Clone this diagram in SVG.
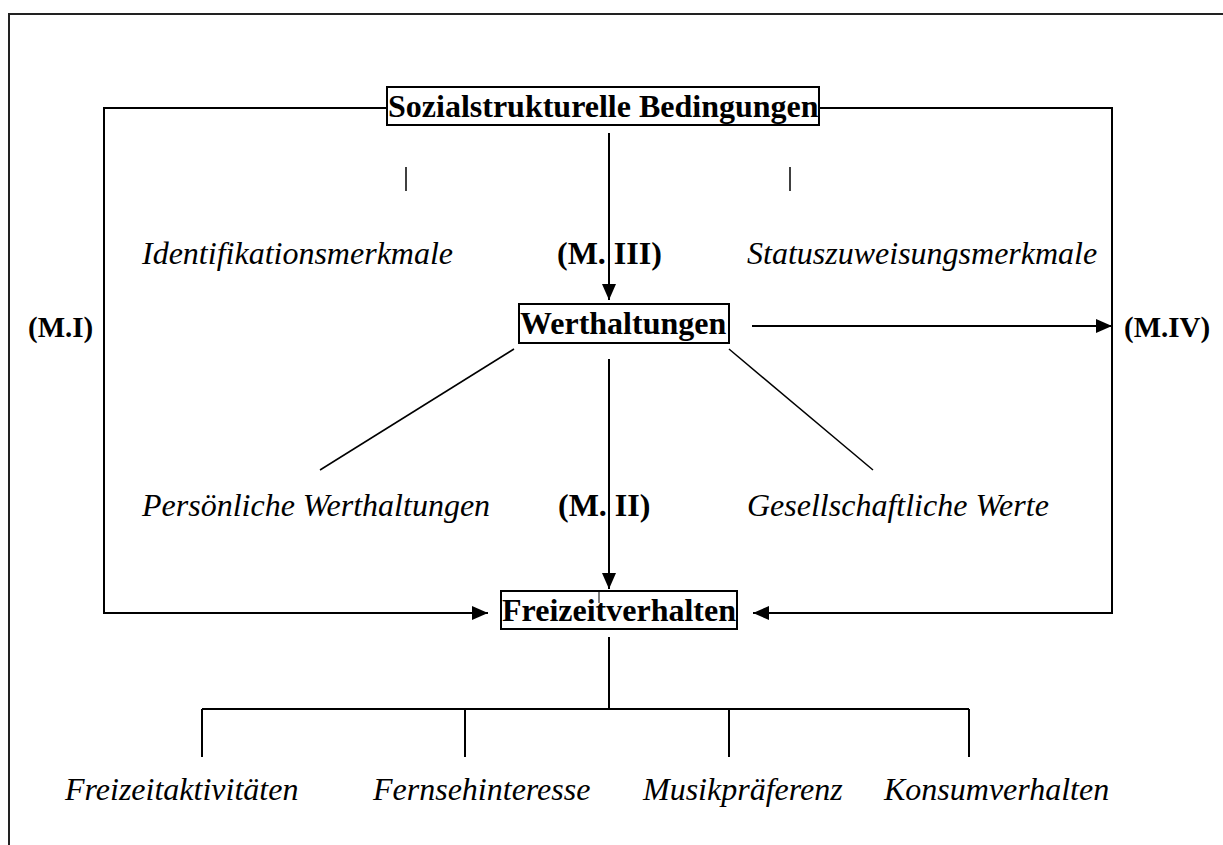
<svg xmlns="http://www.w3.org/2000/svg" width="1223" height="845" viewBox="0 0 1223 845">
<style>
.box{fill:#fff;stroke:#000;stroke-width:2}
.b{font-family:"Liberation Serif","Times New Roman",serif;font-weight:bold;font-size:32px;fill:#000}
.m{font-size:29px}
.i{font-family:"Liberation Serif","Times New Roman",serif;font-style:italic;font-size:32px;fill:#000}
.c{fill:none;stroke:#000;stroke-width:2}
.t{fill:none;stroke:#000;stroke-width:1.5}
</style>
<defs>
<marker id="ah" markerUnits="userSpaceOnUse" markerWidth="16" markerHeight="14" refX="16" refY="7" orient="auto">
<path d="M0,0 L16,7 L0,14 Z" fill="#000"/>
</marker>
</defs>
<rect width="1223" height="845" fill="#fff"/>
<path d="M9,845 V14 H1223" fill="none" stroke="#222" stroke-width="2"/>
<g id="connectors">
<path class="c" d="M387,108 H104 V613 H488" marker-end="url(#ah)"/>
<path class="c" d="M819,108 H1112 V613 H753" marker-end="url(#ah)"/>
<line class="c" x1="609" y1="133" x2="609" y2="300" marker-end="url(#ah)"/>
<line class="c" x1="752" y1="326" x2="1112" y2="326" marker-end="url(#ah)"/>
<line class="c" x1="609" y1="359" x2="609" y2="589" marker-end="url(#ah)"/>
<line class="t" x1="514" y1="349" x2="320" y2="470"/>
<line class="t" x1="729" y1="349" x2="873" y2="470"/>
<line class="t" x1="406" y1="167" x2="406" y2="191"/>
<line class="t" x1="790" y1="167" x2="790" y2="191"/>
<path class="c" d="M609,637 V709 M202,709 H969 M202,709 V757 M465,709 V757 M729,709 V757 M969,709 V757"/>
</g>
<g id="sozial">
<rect class="box" x="387" y="87" width="432" height="38"/>
<text class="b" x="388" y="117">Sozialstrukturelle Bedingungen</text>
</g>
<g id="werthaltungen">
<rect class="box" x="519" y="304" width="210" height="39"/>
<text class="b" x="520" y="334">Werthaltungen</text>
</g>
<g id="freizeitverhalten">
<rect class="box" x="501" y="591" width="236" height="38"/>
<text class="b" x="502" y="621">Freizeitverhalten</text>
<line x1="599" y1="591" x2="599" y2="603" stroke="#000" stroke-width="1"/>
</g>
<g id="labels">
<text class="i" x="142" y="264">Identifikationsmerkmale</text>
<text class="b" x="557" y="264">(M. III)</text>
<text class="i" x="747" y="264">Statuszuweisungsmerkmale</text>
<text class="b m" x="28" y="337">(M.I)</text>
<text class="b m" x="1124" y="337">(M.IV)</text>
<text class="i" x="142" y="516">Persönliche Werthaltungen</text>
<text class="b" x="558" y="516">(M. II)</text>
<text class="i" x="747" y="516">Gesellschaftliche Werte</text>
<text class="i" x="65" y="800">Freizeitaktivitäten</text>
<text class="i" x="373" y="800">Fernsehinteresse</text>
<text class="i" x="643" y="800">Musikpräferenz</text>
<text class="i" x="884" y="800">Konsumverhalten</text>
</g>
</svg>
